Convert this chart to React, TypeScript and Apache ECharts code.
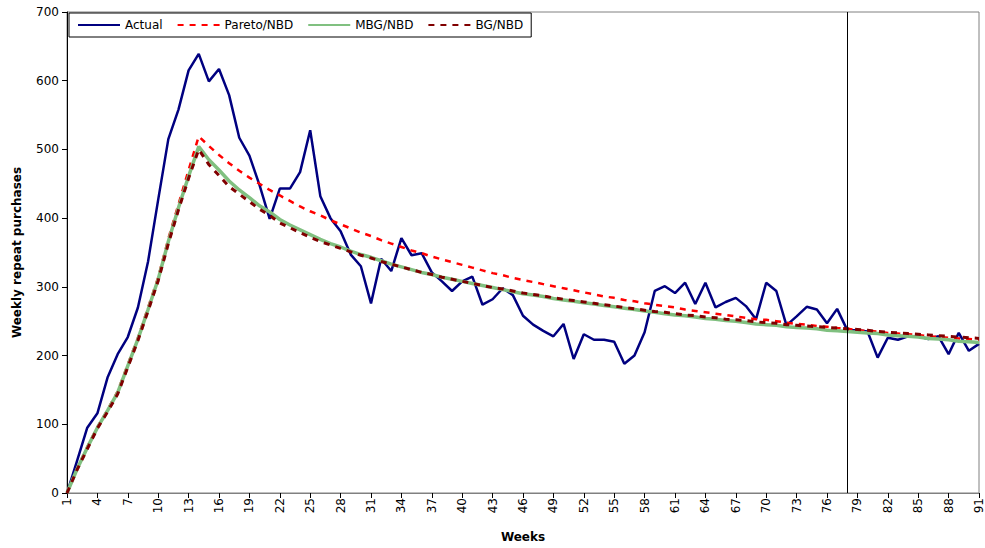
import React, { useEffect, useRef } from "react";
import * as echarts from "echarts";

const weeks: string[] = Array.from({ length: 91 }, (_, i) => String(i + 1));

const actual: number[] = [
  0, 47, 95, 116, 168, 202, 227, 270, 337, 427,
  515, 558, 615, 639, 599, 617, 579, 517, 491, 448,
  399, 443, 443, 467, 528, 432, 400, 381, 347, 330,
  276, 341, 323, 371, 346, 349, 321, 308, 294, 308,
  315, 274, 282, 298, 288, 258, 245, 236, 228, 246,
  195, 231, 223, 223, 220, 188, 200, 234, 294, 301,
  291, 306, 275, 306, 270, 278, 284, 272, 253, 306,
  294, 244, 257, 271, 267, 247, 268, 237, 237, 235,
  197, 226, 223, 228, 228, 224, 228, 202, 233, 207,
  217,
];

const paretoNBD: number[] = [
  0, 36, 67, 96, 121, 148, 187, 226, 270, 314,
  370, 420, 470, 519, 505, 492, 480, 469, 459, 450,
  441, 433, 425, 417, 410, 404, 397, 391, 385, 379,
  374, 368, 363, 358, 353, 349, 344, 340, 336, 332,
  328, 324, 320, 317, 313, 310, 307, 304, 301, 298,
  295, 292, 289, 286, 284, 281, 279, 276, 274, 272,
  270, 267, 265, 263, 261, 259, 257, 255, 253, 252,
  250, 248, 246, 245, 243, 242, 240, 239, 237, 236,
  235, 233, 232, 231, 230, 228, 227, 226, 225, 224,
  223,
];

const mbgNBD: number[] = [
  0, 35, 66, 95, 120, 146, 185, 224, 267, 311,
  366, 415, 461, 504, 485, 470, 454, 441, 430, 418,
  409, 398, 390, 383, 376, 369, 363, 358, 352, 347,
  343, 338, 333, 329, 325, 321, 318, 314, 311, 308,
  305, 302, 299, 296, 293, 290, 288, 286, 283, 281,
  279, 277, 275, 273, 271, 269, 267, 265, 263, 261,
  259, 258, 256, 254, 253, 251, 250, 248, 246, 245,
  244, 242, 241, 240, 239, 237, 236, 235, 234, 233,
  232, 230, 229, 228, 227, 225, 224, 223, 221, 220,
  219,
];

const bgNBD: number[] = [
  0, 34, 64, 94, 118, 144, 183, 222, 265, 309,
  363, 412, 458, 500, 478, 462, 446, 435, 424, 413,
  404, 393, 386, 379, 372, 366, 361, 356, 351, 346,
  342, 337, 333, 329, 325, 321, 318, 314, 311, 308,
  305, 302, 299, 297, 294, 291, 289, 287, 284, 282,
  280, 278, 276, 274, 272, 270, 268, 266, 264, 263,
  261, 259, 258, 256, 255, 253, 252, 251, 249, 248,
  247, 245, 244, 243, 242, 241, 240, 239, 238, 237,
  235, 234, 233, 232, 231, 230, 229, 228, 227, 226,
  225,
];

const splitWeek = "78";

export default function App() {
  const ref = useRef<HTMLDivElement>(null);
  useEffect(() => {
    if (!ref.current) return;
    const chart = echarts.init(ref.current, undefined, { renderer: "svg" });
    const font = "DejaVu Sans";
    chart.setOption({
      animation: false,
      backgroundColor: "#ffffff",
      textStyle: { fontFamily: font },
      grid: {
        left: 67,
        right: 5,
        top: 12,
        bottom: 54,
        show: true,
        borderColor: "#808080",
        borderWidth: 1,
      },
      legend: {
        left: 69,
        top: 13,
        orient: "horizontal",
        backgroundColor: "#ffffff",
        borderColor: "#000000",
        borderWidth: 1,
        padding: [6, 8, 6, 8],
        itemGap: 14,
        itemWidth: 42,
        itemHeight: 12,
        itemStyle: { opacity: 0 },
        textStyle: { fontFamily: font, fontSize: 12, color: "#000" },
        data: ["Actual", "Pareto/NBD", "MBG/NBD", "BG/NBD"],
      },
      xAxis: {
        type: "category",
        data: weeks,
        boundaryGap: false,
        name: "Weeks",
        nameLocation: "middle",
        nameGap: 38,
        nameTextStyle: { fontFamily: font, fontSize: 12, fontWeight: "bold", color: "#000" },
        axisLine: { lineStyle: { color: "#808080", width: 1 } },
        axisTick: { interval: 2, length: 5, lineStyle: { color: "#000" } },
        axisLabel: {
          interval: 2,
          rotate: 90,
          fontFamily: font,
          fontSize: 12,
          color: "#000",
          margin: 5,
        },
        splitLine: { show: false },
      },
      yAxis: {
        type: "value",
        min: 0,
        max: 700,
        interval: 100,
        name: "Weekly repeat purchases",
        nameLocation: "middle",
        nameGap: 44,
        nameTextStyle: { fontFamily: font, fontSize: 12, fontWeight: "bold", color: "#000" },
        axisLine: { show: true, lineStyle: { color: "#000", width: 1 } },
        axisTick: { show: true, length: 5, lineStyle: { color: "#000" } },
        axisLabel: { fontFamily: font, fontSize: 12, color: "#000", margin: 8 },
        splitLine: { show: false },
      },
      series: [
        {
          name: "Actual",
          type: "line",
          data: actual,
          symbol: "none",
          lineStyle: { color: "#000080", width: 2.5 },
          itemStyle: { color: "#000080" },
          z: 2,
          markLine: {
            silent: true,
            symbol: "none",
            label: { show: false },
            lineStyle: { color: "#000000", width: 1, type: "solid" },
            data: [{ xAxis: splitWeek }],
          },
        },
        {
          name: "Pareto/NBD",
          type: "line",
          data: paretoNBD,
          symbol: "none",
          lineStyle: { color: "#ff0000", width: 2.5, type: [6, 6] },
          itemStyle: { color: "#ff0000" },
          z: 3,
        },
        {
          name: "MBG/NBD",
          type: "line",
          data: mbgNBD,
          symbol: "none",
          lineStyle: { color: "#80c080", width: 3.5 },
          itemStyle: { color: "#80c080" },
          z: 3,
        },
        {
          name: "BG/NBD",
          type: "line",
          data: bgNBD,
          symbol: "none",
          lineStyle: { color: "#800000", width: 3, type: [6, 6] },
          itemStyle: { color: "#800000" },
          z: 4,
        },
      ],
    });
    return () => chart.dispose();
  }, []);
  return (
    <div
      ref={ref}
      style={{ position: "fixed", left: 0, top: 0, width: 985, height: 548 }}
    />
  );
}
